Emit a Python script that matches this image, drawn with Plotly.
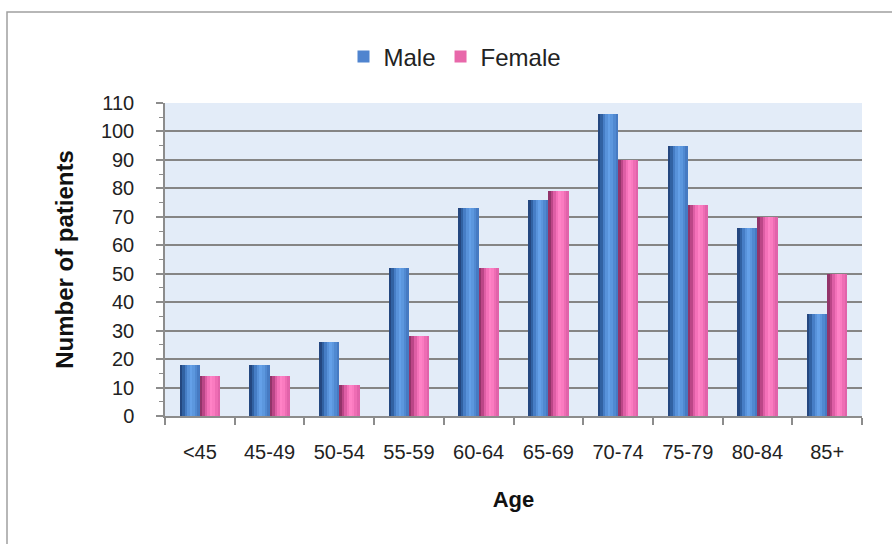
import plotly.graph_objects as go

# Patient counts by age band and sex
age_groups = ["<45", "45-49", "50-54", "55-59", "60-64", "65-69", "70-74", "75-79", "80-84", "85+"]
male = [18, 18, 26, 52, 73, 76, 106, 95, 66, 36]
female = [14, 14, 11, 28, 52, 79, 90, 74, 70, 50]

FONT = "Liberation Sans, Arial, sans-serif"

# Horizontal shading across each bar (left edge -> right edge) for a rounded look
blue_shades = ["#244780", "#3161a2", "#467dc5", "#5892da", "#64a0e8", "#5c97de", "#5089d1", "#467ac2"]
pink_shades = ["#93346a", "#bb4687", "#de5ea5", "#f471b9", "#ff82c6", "#fa7bc0", "#ee6db4", "#e163aa"]

BAR_W = 0.29

fig = go.Figure()


def add_series(name, values, base_color, shades, start):
    # solid bar underneath provides the legend swatch
    fig.add_trace(go.Bar(
        x=age_groups, y=values, name=name,
        marker=dict(color=base_color, line=dict(width=0)),
        width=BAR_W, offset=start, showlegend=True,
    ))
    n = len(shades)
    w = BAR_W / n
    for k, c in enumerate(shades):
        fig.add_trace(go.Bar(
            x=age_groups, y=values, name=name,
            marker=dict(color=c, line=dict(width=0)),
            width=w * 1.02, offset=start + k * w, showlegend=False,
            hoverinfo="skip",
        ))


add_series("Male", male, "#4f84cf", blue_shades, -BAR_W)
add_series("Female", female, "#e868aa", pink_shades, 0.0)

W, H = 892, 544
L, R, T, B = 165, 30, 103, 128
pw, ph = W - L - R, H - T - B


def px_to_paper_x(px):
    return (px - L) / pw


def px_to_paper_y(py):
    return (H - B - py) / ph


fig.update_layout(
    width=W, height=H,
    margin=dict(l=L, r=R, t=T, b=B, pad=0),
    paper_bgcolor="white",
    plot_bgcolor="#e3ecf8",
    barmode="overlay",
    bargap=0,
    font=dict(family=FONT, size=20, color="#222222"),
    legend=dict(
        orientation="h",
        x=px_to_paper_x(455), xanchor="center",
        y=px_to_paper_y(57), yanchor="middle",
        font=dict(family=FONT, size=24, color="#222222"),
        itemwidth=30,
        bgcolor="rgba(0,0,0,0)",
        traceorder="normal",
    ),
    xaxis=dict(
        type="category",
        showgrid=False,
        showline=True, linecolor="#8c8c8c", linewidth=1.5,
        ticks="outside", tickson="boundaries", ticklen=7, tickcolor="#8c8c8c", tickwidth=1.5,
        tickfont=dict(family=FONT, size=20, color="#222222"),
        ticklabelstandoff=17,
        title=dict(text="<b>Age</b>", font=dict(family=FONT, size=22, color="#111111"), standoff=30),
        fixedrange=True,
    ),
    yaxis=dict(
        range=[0, 110],
        dtick=10,
        showgrid=True, gridcolor="#858585", gridwidth=1.8,
        zeroline=False,
        showline=True, linecolor="#8c8c8c", linewidth=1.5,
        ticks="outside", ticklen=7, tickcolor="#8c8c8c", tickwidth=1.5,
        minor=dict(dtick=5, ticks="outside", ticklen=4, tickcolor="#8c8c8c", tickwidth=1.2, showgrid=False),
        tickfont=dict(family=FONT, size=20, color="#222222"),
        ticklabelstandoff=18,
        title=dict(text="<b>Number of patients</b>", font=dict(family=FONT, size=24, color="#111111"), standoff=20),
        fixedrange=True,
    ),
    shapes=[
        # chart frame
        dict(type="rect", xref="paper", yref="paper",
             x0=px_to_paper_x(7), x1=px_to_paper_x(910),
             y0=px_to_paper_y(580), y1=px_to_paper_y(12),
             line=dict(color="#a0a0a0", width=1.5), fillcolor="rgba(0,0,0,0)", layer="below"),
    ],
)

fig.write_html("out.html")
